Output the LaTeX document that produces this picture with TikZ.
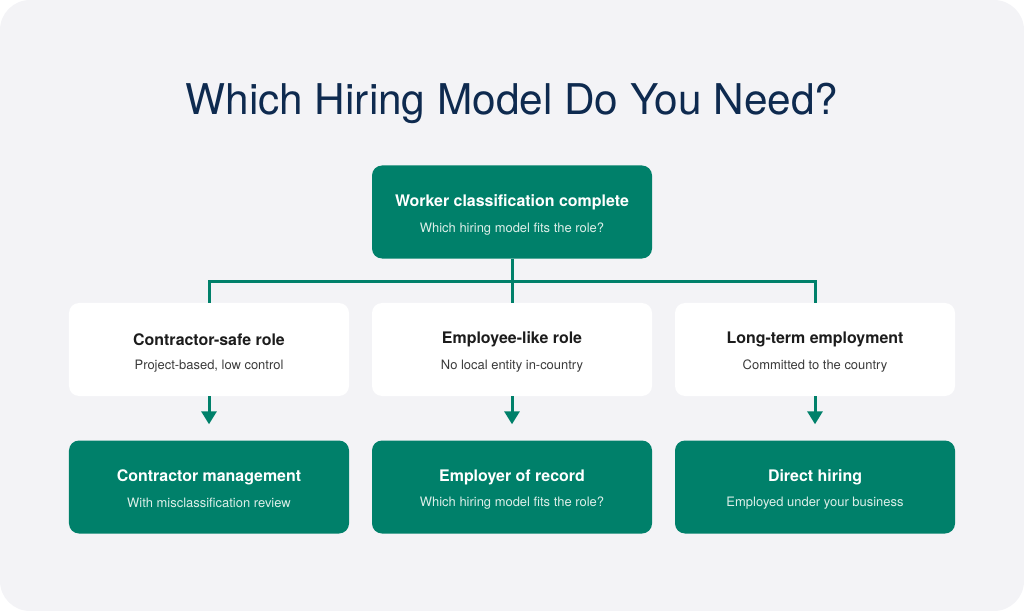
\documentclass[tikz,border=0pt]{standalone}
\usepackage{fontspec}
\setmainfont{TeX Gyre Heros}
\usetikzlibrary{arrows.meta}
\definecolor{hg}{HTML}{00806A}
\definecolor{hn}{HTML}{0E2A4F}
\definecolor{hb}{HTML}{F3F3F6}
\definecolor{hk}{HTML}{1C1C1C}
\definecolor{hs}{HTML}{3A3A3A}
\definecolor{hl}{HTML}{DDEFE9}

\begin{document}
\begin{tikzpicture}[x=1bp,y=-1bp,
  greenbox/.style={fill=hg,rounded corners=10bp,minimum width=280bp,minimum height=93bp,inner sep=0pt},
  whitebox/.style={fill=white,rounded corners=10bp,minimum width=280bp,minimum height=93bp,inner sep=0pt},
  headtext/.style={font=\bfseries\fontsize{16}{19}\selectfont,inner sep=0pt},
  subtext/.style={font=\fontsize{13}{15}\selectfont,inner sep=0pt},
  link/.style={hg,line width=3bp}]
  \useasboundingbox (0,0) rectangle (1024,611);
  \fill[hb,rounded corners=30bp] (0,0) rectangle (1024,611);

  % Title
  \node[hn,font=\fontsize{42.5}{48}\selectfont] (title) at (512,103) {Which Hiring Model Do You Need?};

  % Starting point
  \node[greenbox] (top) at (512,212) {};
  \node[headtext,white] (tophead) at (512,202.5) {Worker classification complete};
  \node[subtext,hl] (topsub) at (512,229) {Which hiring model fits the role?};

  % Role boxes (white) and hiring models (green)
  \foreach \i/\x/\rhead/\rsub/\mhead/\msub in {
    1/209/{Contractor-safe role}/{Project-based, low control}/{Contractor management}/{With misclassification review},
    2/512/{Employee-like role}/{No local entity in-country}/{Employer of record}/{Which hiring model fits the role?},
    3/815/{Long-term employment}/{Committed to the country}/{Direct hiring}/{Employed under your business}} {
    \node[whitebox] (role\i) at (\x,349.5) {};
    \node[headtext,hk] (rolehead\i) at (\x,339.5) {\rhead};
    \node[subtext,hs] (rolesub\i) at (\x,366) {\rsub};
    \node[greenbox] (model\i) at (\x,487) {};
    \node[headtext,white] (modelhead\i) at (\x,477.5) {\mhead};
    \node[subtext,hl] (modelsub\i) at (\x,503) {\msub};
    \draw[link,-{Triangle[width=15bp,length=13bp]},shorten >=16bp] (role\i.south) -- (model\i.north);
  }

  % Branching connector
  \coordinate (bus) at (512,281);
  \draw[link] (top.south) -- (bus);
  \draw[link] (role1.north) |- (bus) -| (role3.north);
  \draw[link] (bus) -- (role2.north);
\end{tikzpicture}
\end{document}
